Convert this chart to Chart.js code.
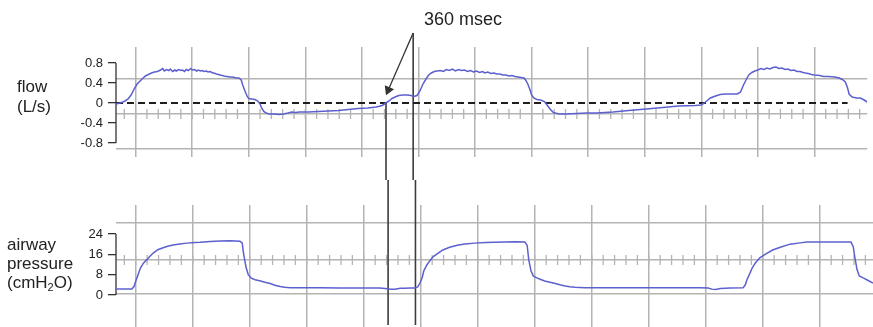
<!DOCTYPE html>
<html>
<head>
<meta charset="utf-8">
<script src="https://cdn.jsdelivr.net/npm/chart.js@4.4.1/dist/chart.umd.min.js"></script>
<style>
  body { margin: 0; background: #fff; }
  #wrap { position: relative; width: 873px; height: 327px; overflow: hidden;
          font-family: 'Liberation Sans', Arial, sans-serif; color: #222; }
  canvas { position: absolute; left: 0; }
  #flowCanvas { top: 0; }
  #pressureCanvas { top: 180px; }
  .label { position: absolute; font-size: 17px; line-height: 20px; white-space: nowrap; }
  #flowLabel { left: 17px; top: 77px; }
  #pressureLabel { left: 7px; top: 235px; line-height: 19px; }
  #msecLabel { left: 403px; top: 9px; width: 120px; text-align: center; font-size: 18px; }
  sub { font-size: 11px; vertical-align: -3px; line-height: 0; }
</style>
</head>
<body>
<div id="wrap">
  <canvas id="flowCanvas" width="873" height="180"></canvas>
  <canvas id="pressureCanvas" width="873" height="147"></canvas>
  <div class="label" id="flowLabel">flow<br>(L/s)</div>
  <div class="label" id="pressureLabel">airway<br>pressure<br>(cmH<sub>2</sub>O)</div>
  <div class="label" id="msecLabel">360 msec</div>
</div>
<script>
// time in seconds, flow in L/s, pressure in cmH2O
const flowTimes = [
  0, 0.05, 0.11, 0.16, 0.20, 0.24, 0.28, 0.32, 0.36, 0.39, 0.43, 0.47, 0.51, 0.55, 0.59, 0.62,
  0.64, 0.67, 0.70, 0.72, 0.75, 0.78, 0.80, 0.83, 0.86, 0.88, 0.91, 0.93, 0.96, 0.99, 1.01, 1.04,
  1.07, 1.09, 1.12, 1.14, 1.17, 1.20, 1.22, 1.25, 1.28, 1.30, 1.33, 1.36, 1.38, 1.41, 1.43, 1.47,
  1.51, 1.55, 1.59, 1.63, 1.66, 1.68, 1.71, 1.74, 1.76, 1.80, 1.84, 1.88, 1.91, 1.93, 1.96, 1.99,
  2.03, 2.09, 2.16, 2.22, 2.28, 2.33, 2.38, 2.43, 2.55, 2.68, 2.82, 2.95, 3.08, 3.21, 3.34, 3.45,
  3.53, 3.58, 3.62, 3.66, 3.70, 3.75, 3.80, 3.86, 3.91, 3.95, 3.99, 4.03, 4.07, 4.11, 4.14, 4.18,
  4.22, 4.26, 4.30, 4.34, 4.38, 4.42, 4.46, 4.50, 4.54, 4.58, 4.62, 4.66, 4.70, 4.74, 4.78, 4.82,
  4.86, 4.89, 4.93, 4.97, 5.01, 5.05, 5.09, 5.13, 5.17, 5.21, 5.25, 5.29, 5.33, 5.37, 5.41, 5.43,
  5.46, 5.49, 5.51, 5.54, 5.58, 5.63, 5.68, 5.72, 5.76, 5.80, 5.87, 5.97, 6.11, 6.24, 6.37, 6.59,
  6.80, 7.03, 7.25, 7.46, 7.68, 7.76, 7.80, 7.84, 7.88, 7.95, 8.01, 8.08, 8.16, 8.24, 8.28, 8.32,
  8.36, 8.39, 8.43, 8.47, 8.51, 8.55, 8.59, 8.63, 8.67, 8.71, 8.75, 8.79, 8.83, 8.87, 8.91, 8.95,
  8.99, 9.03, 9.07, 9.11, 9.14, 9.18, 9.22, 9.26, 9.33, 9.38, 9.45, 9.53, 9.59, 9.63, 9.67, 9.70,
  9.72, 9.76, 9.82, 9.87, 9.92, 9.96
];
const flowValues = [
  -0.02, 0.00, 0.03, 0.08, 0.16, 0.28, 0.38, 0.44, 0.50, 0.54, 0.57, 0.60, 0.62, 0.63, 0.66, 0.69,
  0.64, 0.67, 0.65, 0.68, 0.63, 0.66, 0.64, 0.67, 0.65, 0.66, 0.63, 0.67, 0.65, 0.69, 0.66, 0.67,
  0.64, 0.66, 0.64, 0.65, 0.63, 0.64, 0.62, 0.63, 0.60, 0.60, 0.58, 0.57, 0.56, 0.55, 0.54, 0.53,
  0.52, 0.52, 0.50, 0.50, 0.46, 0.36, 0.24, 0.13, 0.09, 0.08, 0.07, 0.04, -0.02, -0.10, -0.17, -0.20,
  -0.22, -0.22, -0.23, -0.22, -0.20, -0.18, -0.19, -0.18, -0.18, -0.17, -0.16, -0.15, -0.13, -0.11, -0.10, -0.08,
  -0.05, 0.00, 0.04, 0.09, 0.12, 0.15, 0.16, 0.16, 0.15, 0.13, 0.15, 0.24, 0.38, 0.48, 0.55, 0.60,
  0.63, 0.64, 0.65, 0.63, 0.67, 0.65, 0.68, 0.64, 0.67, 0.65, 0.66, 0.63, 0.65, 0.62, 0.64, 0.61,
  0.63, 0.60, 0.62, 0.59, 0.60, 0.58, 0.58, 0.56, 0.56, 0.54, 0.55, 0.53, 0.52, 0.51, 0.50, 0.46,
  0.38, 0.26, 0.16, 0.10, 0.07, 0.06, 0.03, -0.05, -0.13, -0.19, -0.22, -0.22, -0.21, -0.20, -0.20, -0.18,
  -0.15, -0.12, -0.09, -0.06, -0.05, -0.04, 0.00, 0.05, 0.10, 0.14, 0.17, 0.18, 0.18, 0.18, 0.22, 0.36,
  0.48, 0.56, 0.61, 0.64, 0.66, 0.69, 0.67, 0.70, 0.68, 0.71, 0.72, 0.69, 0.70, 0.67, 0.68, 0.65,
  0.66, 0.63, 0.63, 0.61, 0.60, 0.59, 0.57, 0.56, 0.55, 0.53, 0.53, 0.52, 0.50, 0.47, 0.42, 0.30,
  0.18, 0.12, 0.10, 0.10, 0.06, 0.02
];
const pressureTimes = [
  0, 0.21, 0.24, 0.26, 0.29, 0.32, 0.36, 0.41, 0.45, 0.49, 0.55, 0.62, 0.68, 0.75, 0.84, 0.93,
  1.04, 1.11, 1.24, 1.37, 1.50, 1.57, 1.63, 1.66, 1.68, 1.71, 1.74, 1.78, 1.83, 1.89, 1.96, 2.03,
  2.09, 2.16, 2.22, 2.29, 2.42, 2.68, 2.95, 3.21, 3.47, 3.54, 3.61, 3.67, 3.74, 3.80, 3.87, 3.93,
  3.97, 4.00, 4.03, 4.05, 4.09, 4.13, 4.17, 4.24, 4.30, 4.39, 4.49, 4.59, 4.72, 4.86, 4.99, 5.12,
  5.25, 5.38, 5.41, 5.43, 5.46, 5.49, 5.53, 5.58, 5.64, 5.71, 5.78, 5.84, 5.91, 5.97, 6.04, 6.17,
  6.37, 7.03, 7.68, 7.79, 7.84, 7.89, 7.95, 8.08, 8.25, 8.28, 8.30, 8.34, 8.37, 8.41, 8.47, 8.54,
  8.64, 8.74, 8.87, 9.00, 9.09, 9.26, 9.43, 9.59, 9.67, 9.70, 9.72, 9.75, 9.78, 9.83, 9.89, 9.96
];
const pressureValues = [
  2.4, 2.4, 3.5, 5.5, 8.0, 10.5, 12.5, 14.0, 15.3, 16.5, 17.8, 18.6, 19.2, 19.7, 20.1, 20.4,
  20.6, 20.7, 21.0, 21.2, 21.3, 21.2, 21.1, 20.5, 16.0, 11.0, 8.0, 6.6, 6.0, 5.6, 5.0, 4.5,
  3.8, 3.3, 3.0, 2.8, 2.8, 2.8, 2.7, 2.7, 2.7, 2.5, 2.3, 2.3, 2.6, 2.6, 2.7, 2.7,
  3.2, 4.7, 7.0, 9.5, 11.8, 13.5, 15.0, 16.5, 17.7, 18.8, 19.6, 20.1, 20.4, 20.6, 20.7, 20.8,
  20.9, 20.8, 19.5, 14.0, 9.5, 7.5, 6.8, 6.2, 5.5, 5.0, 4.5, 4.0, 3.5, 3.2, 3.0, 2.8,
  2.8, 2.8, 2.8, 2.7, 2.3, 2.2, 2.5, 2.7, 2.8, 4.0, 5.9, 8.5, 10.6, 12.5, 14.6, 16.0,
  17.7, 18.8, 20.0, 20.5, 20.8, 20.8, 20.8, 20.8, 20.8, 19.0, 15.0, 10.0, 7.5, 6.7, 5.8, 4.7
];

const flowTicks = [-0.8, -0.4, 0, 0.4, 0.8];
const pressureTicks = [0, 8, 16, 24];
const flowGridRows = [0.48, -0.22, -0.92];
const pressureGridRows = [28.3, 13.8, 0.4];
const gridCols = [0.26, 1.01, 1.76, 2.51, 3.26, 4.01, 4.76, 5.51, 6.26, 7.01, 7.76, 8.51, 9.26];
const zeroLineEnd = 9.70;
// the two cursors, 360 msec apart
const markerTimes = [3.58, 3.94];

const traceColor = 'rgb(92, 96, 206)';
const gridColor = '#b4b4b4';
const axisColor = '#333';

Chart.defaults.font.family = "'Liberation Sans', Arial, sans-serif";
Chart.defaults.font.size = 13;
Chart.defaults.color = '#222';

const toPoints = (xs, ys) => xs.map((x, i) => ({ x, y: ys[i] }));

// axis bracket plus the small ticks along the middle row of the grid
const scopeMarks = {
  id: 'scopeMarks',
  beforeDatasetsDraw(chart, args, opts) {
    const { ctx, scales } = chart;
    const x = scales.x, y = scales.y, yg = scales.yg;
    ctx.save();
    ctx.strokeStyle = gridColor;
    ctx.lineWidth = 1.3;
    const yMid = yg.getPixelForValue(opts.tickRow);
    ctx.beginPath();
    for (let k = 0; ; k++) {
      const t = opts.tickFrom + k * opts.tickStep;
      if (t > x.max) break;
      const px = x.getPixelForValue(t);
      ctx.moveTo(px, yMid - 5);
      ctx.lineTo(px, yMid + 5);
    }
    ctx.stroke();

    const vals = y.ticks.map(t => t.value);
    ctx.strokeStyle = axisColor;
    ctx.lineWidth = 1.3;
    ctx.beginPath();
    ctx.moveTo(y.right, y.getPixelForValue(Math.max(...vals)));
    ctx.lineTo(y.right, y.getPixelForValue(Math.min(...vals)));
    ctx.stroke();
    ctx.restore();
  }
};

function makeScales(yMin, yMax, ticks, rows) {
  return {
    x: {
      type: 'linear', min: 0, max: 9.96,
      ticks: { display: false },
      border: { display: false },
      grid: { color: gridColor, lineWidth: 1.5, drawTicks: false },
      afterBuildTicks: s => { s.ticks = gridCols.map(v => ({ value: v })); },
      afterFit: s => { s.height = 0; }
    },
    y: {
      type: 'linear', position: 'left', min: yMin, max: yMax,
      ticks: { autoSkip: false, padding: 5, color: '#222' },
      border: { display: false },
      grid: { drawOnChartArea: false, drawTicks: true, tickLength: 8, color: axisColor, lineWidth: 1.3 },
      afterBuildTicks: s => { s.ticks = ticks.map(v => ({ value: v })); },
      afterFit: s => { s.width = 116; s.paddingTop = 0; s.paddingBottom = 0; }
    },
    yg: {
      type: 'linear', position: 'left', min: yMin, max: yMax,
      ticks: { display: false },
      border: { display: false },
      grid: { color: gridColor, lineWidth: 1.5, drawTicks: false },
      afterBuildTicks: s => { s.ticks = rows.map(v => ({ value: v })); },
      afterFit: s => { s.width = 0; }
    }
  };
}

const baseOptions = {
  responsive: false,
  animation: false,
  events: [],
  elements: { point: { radius: 0 }, line: { tension: 0 } },
  plugins: { legend: { display: false }, tooltip: { enabled: false } }
};

function markerSet(t, top, bottom) {
  return {
    data: [{ x: t, y: top }, { x: t, y: bottom }],
    borderColor: '#3c3c3c', borderWidth: 1.6, clip: false
  };
}

new Chart(document.getElementById('flowCanvas'), {
  type: 'line',
  data: {
    datasets: [
      { data: toPoints(flowTimes, flowValues), borderColor: traceColor, borderWidth: 1.5 },
      {
        data: [{ x: 0, y: 0 }, { x: zeroLineEnd, y: 0 }],
        borderColor: '#1e1e1e', borderWidth: 2, borderDash: [7, 4]
      },
      markerSet(markerTimes[0], 0, -5),
      markerSet(markerTimes[1], 1.4, -5),
      {
        // arrow from the label down to the first cursor
        data: [{ x: markerTimes[1], y: 1.4 }, { x: 3.61, y: 0.26 }],
        borderColor: '#333', borderWidth: 1.3, clip: false,
        pointRadius: [0, 4.5], pointStyle: 'triangle', pointRotation: [0, 203],
        pointBackgroundColor: '#333', pointBorderColor: '#333'
      }
    ]
  },
  options: {
    ...baseOptions,
    layout: { padding: { left: 0, right: 0, top: 47, bottom: 23 } },
    scales: makeScales(-1.08, 1.12, flowTicks, flowGridRows),
    plugins: { ...baseOptions.plugins, scopeMarks: { tickRow: -0.22, tickFrom: 0.11, tickStep: 0.15 } }
  },
  plugins: [scopeMarks]
});

new Chart(document.getElementById('pressureCanvas'), {
  type: 'line',
  data: {
    datasets: [
      { data: toPoints(pressureTimes, pressureValues), borderColor: traceColor, borderWidth: 1.5 },
      markerSet(markerTimes[0], 60, -11.8),
      markerSet(markerTimes[1], 60, -11.8)
    ]
  },
  options: {
    ...baseOptions,
    layout: { padding: { left: 0, right: 0, top: 25, bottom: 0 } },
    scales: makeScales(-12.6, 35.4, pressureTicks, pressureGridRows),
    plugins: { ...baseOptions.plugins, scopeMarks: { tickRow: 13.8, tickFrom: 0.11, tickStep: 0.15 } }
  },
  plugins: [scopeMarks]
});
</script>
</body>
</html>
